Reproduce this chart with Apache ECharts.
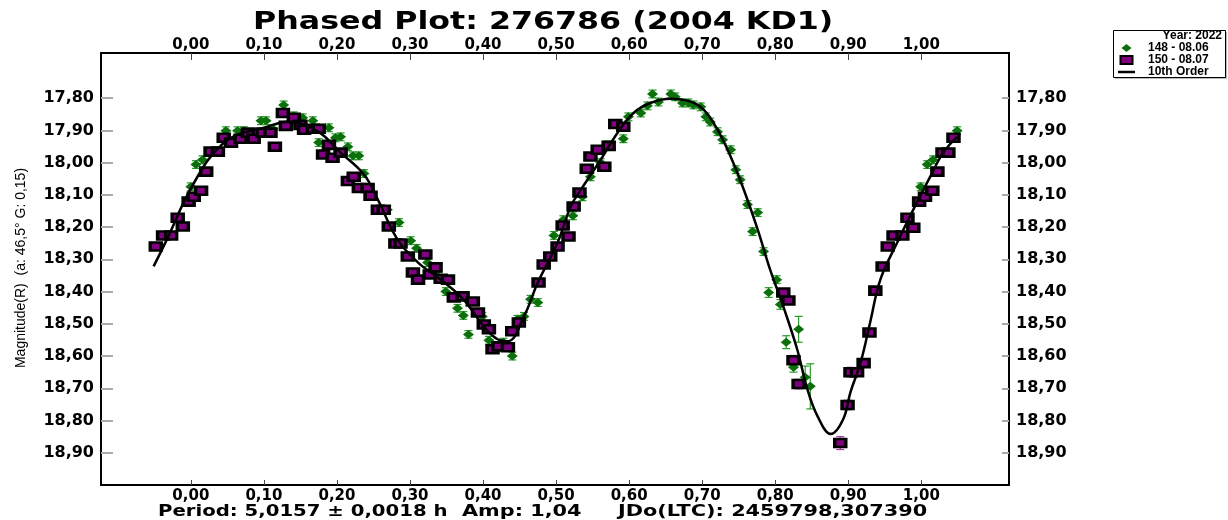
<!DOCTYPE html>
<html>
<head>
<meta charset="UTF-8">
<title>Phased Plot: 276786 (2004 KD1)</title>
<script src="https://cdn.jsdelivr.net/npm/echarts@6/dist/echarts.min.js"></script>
<style>
  html, body { margin: 0; padding: 0; background: #fff; }
  #chart { width: 1228px; height: 520px; }
</style>
</head>
<body>
<div id="chart"></div>
<script>
// session 148 - 08.06 : [phase, magnitude, error]
const obs148 = [
  [0.000, 18.075, 0.012], [0.007, 18.006, 0.012], [0.016, 17.991, 0.012], [0.025, 17.966, 0.012],
  [0.048, 17.901, 0.012], [0.064, 17.901, 0.012], [0.073, 17.901, 0.012], [0.096, 17.870, 0.012],
  [0.103, 17.870, 0.012], [0.112, 17.895, 0.012], [0.127, 17.821, 0.012], [0.141, 17.855, 0.012],
  [0.153, 17.861, 0.012], [0.167, 17.870, 0.012], [0.175, 17.938, 0.012], [0.189, 17.892, 0.012],
  [0.198, 17.923, 0.012], [0.205, 17.920, 0.012], [0.215, 17.951, 0.012], [0.222, 17.979, 0.012],
  [0.230, 17.979, 0.012], [0.237, 18.034, 0.012], [0.269, 18.146, 0.012], [0.285, 18.186, 0.012],
  [0.301, 18.242, 0.012], [0.309, 18.266, 0.012], [0.324, 18.310, 0.012], [0.338, 18.353, 0.012],
  [0.349, 18.400, 0.012], [0.365, 18.452, 0.012], [0.373, 18.474, 0.012], [0.380, 18.533, 0.012],
  [0.399, 18.477, 0.012], [0.408, 18.551, 0.012], [0.428, 18.557, 0.012], [0.440, 18.600, 0.012],
  [0.447, 18.486, 0.012], [0.456, 18.477, 0.012], [0.465, 18.424, 0.012], [0.475, 18.434, 0.012],
  [0.497, 18.226, 0.012], [0.510, 18.177, 0.012], [0.523, 18.165, 0.012], [0.536, 18.106, 0.012],
  [0.547, 18.044, 0.012], [0.561, 18.000, 0.012], [0.570, 17.945, 0.012], [0.592, 17.926, 0.012],
  [0.599, 17.858, 0.012], [0.616, 17.846, 0.012], [0.625, 17.824, 0.012], [0.632, 17.787, 0.012],
  [0.640, 17.812, 0.012], [0.657, 17.787, 0.012], [0.663, 17.796, 0.012], [0.673, 17.815, 0.012],
  [0.681, 17.815, 0.012], [0.688, 17.821, 0.012], [0.698, 17.827, 0.012], [0.705, 17.858, 0.012],
  [0.711, 17.874, 0.012], [0.721, 17.904, 0.012], [0.728, 17.929, 0.012], [0.739, 17.960, 0.012],
  [0.746, 18.022, 0.012], [0.752, 18.053, 0.012], [0.762, 18.130, 0.012], [0.776, 18.155, 0.012],
  [0.769, 18.214, 0.012], [0.784, 18.276, 0.012], [0.802, 18.363, 0.012], [0.791, 18.403, 0.015],
  [0.807, 18.440, 0.015], [0.832, 18.517, 0.040], [0.815, 18.557, 0.020], [0.825, 18.635, 0.015],
  [0.841, 18.666, 0.035], [0.848, 18.694, 0.070], [0.999, 18.075, 0.012], [1.008, 18.006, 0.012],
  [1.016, 17.991, 0.012], [1.049, 17.901, 0.012]
];

// session 150 - 08.07 : [phase, magnitude, error]
const obs150 = [
  [-0.048, 18.260, 0.012], [-0.038, 18.226, 0.012], [-0.027, 18.226, 0.012], [-0.018, 18.171, 0.012],
  [-0.011, 18.198, 0.012], [-0.003, 18.121, 0.012], [0.004, 18.106, 0.012], [0.014, 18.087, 0.012],
  [0.021, 18.028, 0.012], [0.027, 17.966, 0.012], [0.037, 17.966, 0.012], [0.045, 17.923, 0.012],
  [0.055, 17.938, 0.012], [0.068, 17.926, 0.012], [0.078, 17.907, 0.012], [0.086, 17.926, 0.012],
  [0.098, 17.907, 0.012], [0.109, 17.907, 0.012], [0.115, 17.951, 0.012], [0.126, 17.846, 0.012],
  [0.130, 17.886, 0.012], [0.141, 17.861, 0.012], [0.150, 17.883, 0.012], [0.155, 17.898, 0.012],
  [0.167, 17.895, 0.012], [0.175, 17.895, 0.012], [0.181, 17.975, 0.012], [0.189, 17.945, 0.012],
  [0.194, 17.985, 0.012], [0.205, 17.969, 0.012], [0.215, 18.057, 0.012], [0.223, 18.044, 0.012],
  [0.230, 18.079, 0.012], [0.242, 18.079, 0.012], [0.246, 18.103, 0.012], [0.256, 18.146, 0.012],
  [0.264, 18.146, 0.012], [0.271, 18.198, 0.012], [0.280, 18.251, 0.012], [0.287, 18.251, 0.012],
  [0.297, 18.291, 0.012], [0.304, 18.341, 0.012], [0.311, 18.363, 0.012], [0.321, 18.285, 0.012],
  [0.327, 18.347, 0.012], [0.335, 18.325, 0.012], [0.342, 18.360, 0.012], [0.352, 18.363, 0.012],
  [0.360, 18.418, 0.012], [0.372, 18.415, 0.012], [0.386, 18.431, 0.012], [0.393, 18.465, 0.012],
  [0.401, 18.502, 0.012], [0.408, 18.517, 0.012], [0.413, 18.579, 0.012], [0.421, 18.570, 0.012],
  [0.434, 18.573, 0.012], [0.440, 18.523, 0.012], [0.449, 18.496, 0.012], [0.476, 18.372, 0.012],
  [0.483, 18.316, 0.012], [0.492, 18.291, 0.012], [0.502, 18.260, 0.012], [0.509, 18.195, 0.012],
  [0.517, 18.229, 0.012], [0.524, 18.136, 0.012], [0.532, 18.093, 0.012], [0.542, 18.019, 0.012],
  [0.547, 17.981, 0.012], [0.557, 17.960, 0.012], [0.566, 18.013, 0.012], [0.572, 17.948, 0.012],
  [0.581, 17.880, 0.012], [0.592, 17.889, 0.012], [0.811, 18.403, 0.012], [0.818, 18.428, 0.012],
  [0.825, 18.613, 0.015], [0.832, 18.687, 0.015], [0.889, 18.870, 0.020], [0.899, 18.752, 0.015],
  [0.903, 18.650, 0.015], [0.912, 18.650, 0.012], [0.921, 18.622, 0.012], [0.929, 18.527, 0.012],
  [0.937, 18.397, 0.012], [0.947, 18.322, 0.012], [0.954, 18.260, 0.012], [0.962, 18.226, 0.012],
  [0.974, 18.226, 0.012], [0.981, 18.171, 0.012], [0.989, 18.202, 0.012], [0.997, 18.121, 0.012],
  [1.005, 18.106, 0.012], [1.015, 18.087, 0.012], [1.022, 18.028, 0.012], [1.029, 17.969, 0.012],
  [1.037, 17.969, 0.012], [1.044, 17.923, 0.012]
];

// 10th order Fourier fit: [phase, magnitude]
const fitCurve = [
  [-0.051, 18.322], [-0.030, 18.225], [-0.010, 18.124], [0.010, 18.040], [0.027, 17.982],
  [0.055, 17.923], [0.100, 17.892], [0.133, 17.873], [0.174, 17.904], [0.205, 17.969],
  [0.237, 18.037], [0.256, 18.115], [0.283, 18.239], [0.311, 18.310], [0.342, 18.363],
  [0.373, 18.424], [0.401, 18.508], [0.420, 18.548], [0.434, 18.554], [0.456, 18.477],
  [0.475, 18.372], [0.502, 18.248], [0.520, 18.136], [0.534, 18.084], [0.561, 17.991],
  [0.584, 17.908], [0.606, 17.846], [0.629, 17.815], [0.657, 17.802], [0.684, 17.811],
  [0.702, 17.836], [0.721, 17.898], [0.739, 17.982], [0.757, 18.084], [0.776, 18.208],
  [0.793, 18.332], [0.811, 18.446], [0.830, 18.579], [0.844, 18.703], [0.858, 18.787],
  [0.876, 18.842], [0.893, 18.796], [0.903, 18.712], [0.917, 18.619], [0.930, 18.495],
  [0.944, 18.362], [0.967, 18.248], [0.989, 18.146], [1.012, 18.044], [1.030, 17.969],
  [1.049, 17.920]
];

const phaseTicks = [0, 0.1, 0.2, 0.3, 0.4, 0.5, 0.6, 0.7, 0.8, 0.9, 1.0];
const magTicks = [17.8, 17.9, 18.0, 18.1, 18.2, 18.3, 18.4, 18.5, 18.6, 18.7, 18.8, 18.9];

const FONT = 'DejaVu Sans';
const comma = v => v.toFixed(2).replace('.', ',');

function xAxisOf(pos, tickLen, margin) {
  return {
    type: 'value', position: pos, min: -0.123, max: 1.12,
    splitLine: { show: false },
    axisLine: { show: true, onZero: false, lineStyle: { color: '#000', width: 2 } },
    axisTick: { show: true, inside: true, length: tickLen, customValues: phaseTicks,
      lineStyle: { color: '#444', width: 1 } },
    axisLabel: { customValues: phaseTicks, formatter: comma, color: '#000',
      fontFamily: FONT, fontWeight: 'bold', fontSize: 15, margin: margin }
  };
}

function yAxisOf(pos, tickLen) {
  return {
    type: 'value', position: pos, inverse: true, min: 17.66, max: 19.0,
    splitLine: { show: false },
    axisLine: { show: true, onZero: false, lineStyle: { color: '#000', width: 2 } },
    axisTick: { show: true, inside: true, length: tickLen, customValues: magTicks,
      lineStyle: { color: '#aaa', width: 2 } },
    axisLabel: { customValues: magTicks, formatter: comma, color: '#000',
      fontFamily: FONT, fontWeight: 'bold', fontSize: 16, margin: 7 }
  };
}

function errorBars(data, color) {
  return {
    type: 'custom', data: data, encode: { x: 0, y: 1 }, silent: true, z: 2,
    renderItem: function (params, api) {
      const x = api.value(0), y = api.value(1), e = api.value(2);
      const a = api.coord([x, y - e]);
      const b = api.coord([x, y + e]);
      const st = { stroke: color, lineWidth: 1.2 };
      return { type: 'group', children: [
        { type: 'line', shape: { x1: a[0], y1: a[1], x2: b[0], y2: b[1] }, style: st },
        { type: 'line', shape: { x1: a[0] - 4, y1: a[1], x2: a[0] + 4, y2: a[1] }, style: st },
        { type: 'line', shape: { x1: b[0] - 4, y1: b[1], x2: b[0] + 4, y2: b[1] }, style: st }
      ] };
    }
  };
}

// stretched bold text like the original plot program
function label(text, x, y, size, sx) {
  return { type: 'text', x: x, y: y, scaleX: sx, z: 10,
    style: { text: text, font: 'bold ' + size + 'px "DejaVu Sans"', fill: '#000',
      textAlign: 'left', textVerticalAlign: 'middle' } };
}

const chart = echarts.init(document.getElementById('chart'));
chart.setOption({
  animation: false,
  backgroundColor: '#fff',
  grid: { left: 101, right: 219, top: 53, bottom: 35 },
  xAxis: [xAxisOf('bottom', 5, 4), xAxisOf('top', 7, 0)],
  yAxis: [yAxisOf('left', 12), yAxisOf('right', 7)],
  legend: {
    orient: 'vertical', left: 1118, top: 42, padding: 0, itemGap: 0,
    itemWidth: 17, itemHeight: 8,
    data: [
      { name: '148 - 08.06', icon: 'path://M5,0L10,4L5,8L0,4Z' },
      { name: '150 - 08.07', icon: 'path://M0,0H12V8H0Z' },
      { name: '10th Order', icon: 'path://M0,0H17V2.5H0Z' }
    ],
    textStyle: { fontFamily: 'Liberation Sans', fontWeight: 'bold', fontSize: 12,
      lineHeight: 12, color: '#000', padding: [0, 0, 0, 8] }
  },
  graphic: [
    label('Phased Plot: 276786 (2004 KD1)', 253, 23, 24, 1.32),
    label('Period: 5,0157 ± 0,0018 h', 158, 512, 16, 1.23),
    label('Amp: 1,04', 462, 512, 16, 1.3),
    label('JDo(LTC): 2459798,307390', 618, 512, 16, 1.3),
    { type: 'rect', left: 1115, top: 32, z: 0,
      shape: { width: 112, height: 47 }, style: { fill: '#bbb' } },
    { type: 'rect', left: 1113, top: 30, z: 1,
      shape: { width: 112, height: 47 }, style: { fill: '#fff', stroke: '#000', lineWidth: 1 } },
    { type: 'text', right: 6, top: 30, z: 2,
      style: { text: 'Year: 2022', font: 'bold 12px "Liberation Sans"', fill: '#000' } },
    { type: 'text', x: 21, y: 268, rotation: Math.PI / 2,
      style: { text: 'Magnitude(R)  (a: 46,5° G: 0,15)', font: '14px "Liberation Sans Narrow", "Liberation Sans"',
        fill: '#000', textAlign: 'center', textVerticalAlign: 'middle' } }
  ],
  series: [
    errorBars(obs148, '#2a9a2a'),
    errorBars(obs150, '#a040a8'),
    { name: '148 - 08.06', type: 'scatter', data: obs148, z: 3,
      symbol: 'diamond', symbolSize: [11, 9], itemStyle: { color: '#0b700b', opacity: 1 } },
    { name: '150 - 08.07', type: 'scatter', data: obs150, z: 4,
      symbol: 'rect', symbolSize: [11, 8],
      itemStyle: { color: '#800080', borderColor: '#000', borderWidth: 3, opacity: 1 } },
    { name: '10th Order', type: 'line', data: fitCurve, z: 5, smooth: 0.4,
      showSymbol: false, symbol: 'none', lineStyle: { color: '#000', width: 2.5 },
      itemStyle: { color: '#000' } }
  ]
});
</script>
</body>
</html>
